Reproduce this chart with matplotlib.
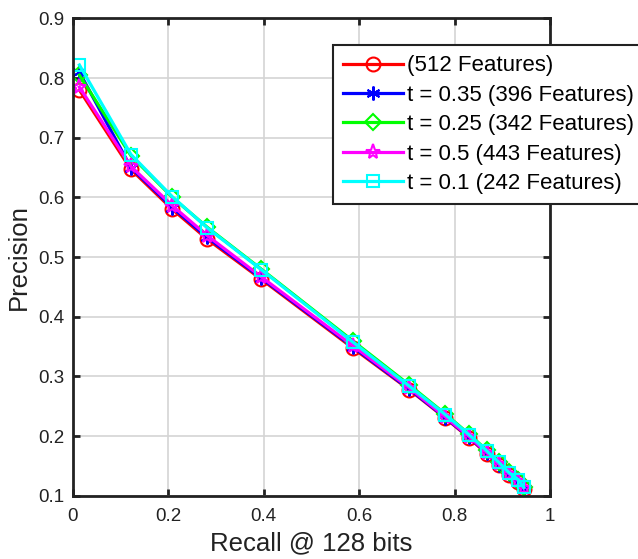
import matplotlib
matplotlib.use("Agg")
import matplotlib.pyplot as plt

plt.rcParams['font.family'] = ['Liberation Sans', 'DejaVu Sans']

# recall values (shared by all curves)
recall = [0.014, 0.122, 0.209, 0.282, 0.395, 0.588, 0.705, 0.781, 0.831,
          0.868, 0.893, 0.914, 0.934, 0.945]

prec_512 = [0.780, 0.647, 0.580, 0.530, 0.463, 0.347, 0.278, 0.230, 0.197,
            0.170, 0.151, 0.135, 0.123, 0.112]
prec_035 = [0.810, 0.650, 0.583, 0.533, 0.465, 0.349, 0.279, 0.231, 0.198,
            0.171, 0.152, 0.136, 0.124, 0.113]
prec_025 = [0.805, 0.670, 0.600, 0.550, 0.480, 0.359, 0.286, 0.237, 0.203,
            0.176, 0.157, 0.140, 0.127, 0.114]
prec_05 = [0.785, 0.652, 0.586, 0.536, 0.467, 0.351, 0.281, 0.232, 0.199,
           0.172, 0.153, 0.137, 0.125, 0.113]
prec_01 = [0.822, 0.672, 0.601, 0.549, 0.479, 0.357, 0.284, 0.236, 0.202,
           0.175, 0.156, 0.139, 0.127, 0.114]

labels = ['(512 Features)', 't = 0.35 (396 Features)', 't = 0.25 (342 Features)',
          't = 0.5 (443 Features)', 't = 0.1 (242 Features)']
series = [prec_512, prec_035, prec_025, prec_05, prec_01]
colors = ['#ff0000', '#0000ff', '#00ff00', '#ff00ff', '#00ffff']
markers = ['o', (6, 2, 0), 'D', '*', 's']
msizes = [10, 10, 8, 11, 8]

fig = plt.figure(figsize=(6.38, 5.59), dpi=100)
ax = fig.add_axes([0.114, 0.113, 0.748, 0.854])

for y, c, m, ms, lab in zip(series, colors, markers, msizes, labels):
    ax.plot(recall, y, color=c, lw=2.3, marker=m, ms=ms, mfc='none',
            mec=c, mew=1.5, label=lab)

ax.set_xlim(0, 1)
ax.set_ylim(0.1, 0.9)
ax.set_xticks([0, 0.2, 0.4, 0.6, 0.8, 1])
ax.set_xticklabels(['0', '0.2', '0.4', '0.6', '0.8', '1'])
ax.set_yticks([0.1, 0.2, 0.3, 0.4, 0.5, 0.6, 0.7, 0.8, 0.9])
ax.grid(True, color='#d4d4d4', lw=1.2)
ax.set_axisbelow(True)
for s in ax.spines.values():
    s.set_linewidth(2)
    s.set_color('#222222')
ax.tick_params(direction='in', length=5, width=2, top=True, right=True,
               labelsize=13.5, colors='#222222', pad=6)
ax.tick_params(axis='x', pad=9)
ax.set_xlabel('Recall @ 128 bits', fontsize=18.5, color='#222222', labelpad=4)
ax.set_ylabel('Precision', fontsize=18.5, color='#222222', labelpad=5)

leg = ax.legend(loc='upper left', bbox_to_anchor=(0.522, 0.919),
                bbox_transform=fig.transFigure, fontsize=16, frameon=True,
                fancybox=False, edgecolor='#222222', framealpha=1,
                handlelength=2.7, handletextpad=0.2, labelspacing=0.38,
                borderpad=0.45, borderaxespad=0)
leg.get_frame().set_linewidth(1.5)

fig.savefig('out.png', dpi=100)
